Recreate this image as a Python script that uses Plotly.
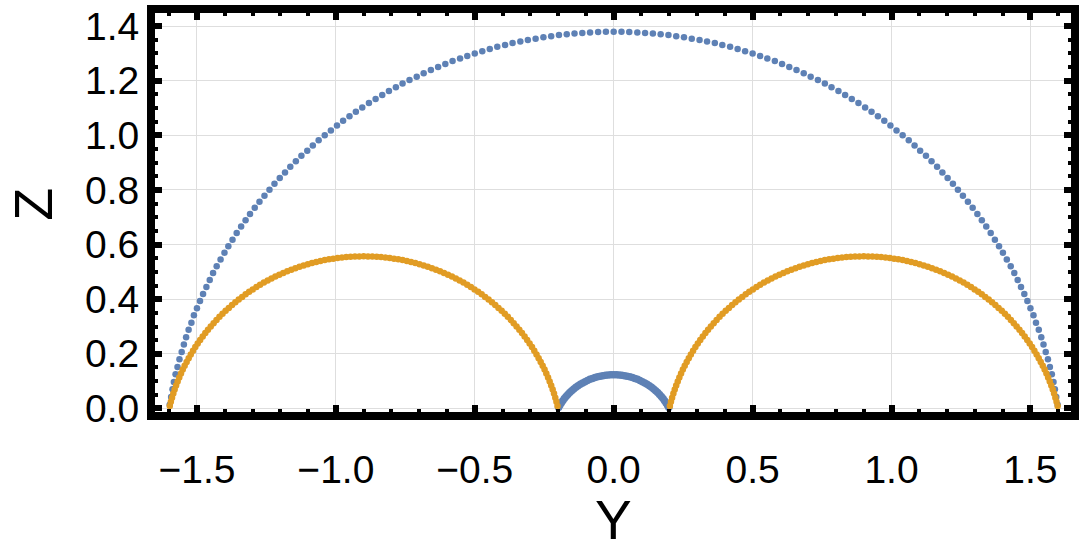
import plotly.graph_objects as go

# ---------------- data ----------------
outer_y = [-1.598, -1.593, -1.588, -1.583, -1.577, -1.570, -1.563, -1.555, -1.547, -1.539,
           -1.530, -1.520, -1.511, -1.500, -1.489, -1.478, -1.466, -1.454, -1.442, -1.429,
           -1.415, -1.401, -1.387, -1.372, -1.357, -1.341, -1.325, -1.309, -1.292, -1.275,
           -1.257, -1.239, -1.221, -1.202, -1.183, -1.164, -1.144, -1.124, -1.103, -1.083,
           -1.062, -1.040, -1.018, -0.996, -0.974, -0.951, -0.928, -0.905, -0.881, -0.857,
           -0.833, -0.809, -0.784, -0.760, -0.735, -0.709, -0.684, -0.658, -0.632, -0.606,
           -0.580, -0.553, -0.527, -0.500, -0.473, -0.446, -0.419, -0.391, -0.364, -0.336,
           -0.309, -0.281, -0.253, -0.225, -0.197, -0.169, -0.141, -0.113, -0.085, -0.056,
           -0.028, 0.000,
           0.028, 0.056, 0.085, 0.113, 0.141, 0.169, 0.197, 0.225, 0.253, 0.281,
           0.309, 0.336, 0.364, 0.391, 0.419, 0.446, 0.473, 0.500, 0.527, 0.553,
           0.580, 0.606, 0.632, 0.658, 0.684, 0.709, 0.735, 0.760, 0.784, 0.809,
           0.833, 0.857, 0.881, 0.905, 0.928, 0.951, 0.974, 0.996, 1.018, 1.040,
           1.062, 1.083, 1.103, 1.124, 1.144, 1.164, 1.183, 1.202, 1.221, 1.239,
           1.257, 1.275, 1.292, 1.309, 1.325, 1.341, 1.357, 1.372, 1.387, 1.401,
           1.415, 1.429, 1.442, 1.454, 1.466, 1.478, 1.489, 1.500, 1.511, 1.520,
           1.530, 1.539, 1.547, 1.555, 1.563, 1.570, 1.577, 1.583, 1.588, 1.593, 1.598]
outer_z = [0.014, 0.042, 0.070, 0.097, 0.125, 0.152, 0.180, 0.207, 0.234, 0.261,
           0.288, 0.314, 0.341, 0.367, 0.393, 0.419, 0.445, 0.470, 0.496, 0.521,
           0.545, 0.570, 0.594, 0.618, 0.642, 0.666, 0.689, 0.712, 0.735, 0.757,
           0.779, 0.801, 0.823, 0.844, 0.864, 0.885, 0.905, 0.925, 0.944, 0.963,
           0.982, 1.000, 1.018, 1.036, 1.053, 1.070, 1.086, 1.102, 1.118, 1.133,
           1.148, 1.162, 1.176, 1.190, 1.203, 1.215, 1.227, 1.239, 1.250, 1.261,
           1.272, 1.281, 1.291, 1.300, 1.308, 1.316, 1.324, 1.331, 1.338, 1.344,
           1.349, 1.354, 1.359, 1.363, 1.367, 1.370, 1.373, 1.375, 1.377, 1.378,
           1.379, 1.379,
           1.379, 1.378, 1.377, 1.375, 1.373, 1.370, 1.367, 1.363, 1.359, 1.354,
           1.349, 1.344, 1.338, 1.331, 1.324, 1.316, 1.308, 1.300, 1.291, 1.281,
           1.272, 1.261, 1.250, 1.239, 1.227, 1.215, 1.203, 1.190, 1.176, 1.162,
           1.148, 1.133, 1.118, 1.102, 1.086, 1.070, 1.053, 1.036, 1.018, 1.000,
           0.982, 0.963, 0.944, 0.925, 0.905, 0.885, 0.864, 0.844, 0.823, 0.801,
           0.779, 0.757, 0.735, 0.712, 0.689, 0.666, 0.642, 0.618, 0.594, 0.570,
           0.545, 0.521, 0.496, 0.470, 0.445, 0.419, 0.393, 0.367, 0.341, 0.314,
           0.288, 0.261, 0.234, 0.207, 0.180, 0.152, 0.125, 0.097, 0.070, 0.042, 0.014]

inner_y = [-0.1984, -0.1937, -0.1887, -0.1832, -0.1775, -0.1714, -0.1649, -0.1582, -0.1511,
           -0.1438, -0.1362, -0.1283, -0.1202, -0.1119, -0.1033, -0.0945, -0.0856, -0.0765,
           -0.0673, -0.0579, -0.0484, -0.0388, -0.0292, -0.0195, -0.0098, 0.0,
           0.0098, 0.0195, 0.0292, 0.0388, 0.0484, 0.0579, 0.0673, 0.0765, 0.0856,
           0.0945, 0.1033, 0.1119, 0.1202, 0.1283, 0.1362, 0.1438, 0.1511, 0.1582,
           0.1649, 0.1714, 0.1775, 0.1832, 0.1887, 0.1937, 0.1984]
inner_z = [0.0031, 0.0117, 0.0200, 0.0281, 0.0360, 0.0436, 0.0509, 0.0580, 0.0647,
           0.0712, 0.0773, 0.0830, 0.0885, 0.0935, 0.0982, 0.1025, 0.1065, 0.1100,
           0.1131, 0.1159, 0.1182, 0.1201, 0.1216, 0.1226, 0.1233, 0.1235,
           0.1233, 0.1226, 0.1216, 0.1201, 0.1182, 0.1159, 0.1131, 0.1100, 0.1065,
           0.1025, 0.0982, 0.0935, 0.0885, 0.0830, 0.0773, 0.0712, 0.0647, 0.0580,
           0.0509, 0.0436, 0.0360, 0.0281, 0.0200, 0.0117, 0.0031]

left_lobe_y = [-1.5978, -1.5939, -1.5897, -1.5851, -1.5803, -1.5751, -1.5695, -1.5637, -1.5575,
               -1.5511, -1.5443, -1.5372, -1.5298, -1.5222, -1.5142, -1.5059, -1.4973, -1.4885,
               -1.4793, -1.4699, -1.4603, -1.4503, -1.4401, -1.4296, -1.4189, -1.4080, -1.3968,
               -1.3853, -1.3737, -1.3618, -1.3497, -1.3373, -1.3248, -1.3121, -1.2991, -1.2860,
               -1.2727, -1.2592, -1.2455, -1.2317, -1.2177, -1.2036, -1.1893, -1.1749, -1.1604,
               -1.1457, -1.1309, -1.1160, -1.1010, -1.0859, -1.0707, -1.0555, -1.0401, -1.0247,
               -1.0093, -0.9938, -0.9782, -0.9626, -0.9470, -0.9313, -0.9157, -0.9000,
               -0.8843, -0.8687, -0.8530, -0.8374, -0.8218, -0.8062, -0.7907, -0.7753, -0.7599,
               -0.7445, -0.7293, -0.7141, -0.6990, -0.6840, -0.6691, -0.6543, -0.6396, -0.6251,
               -0.6107, -0.5964, -0.5823, -0.5683, -0.5545, -0.5408, -0.5273, -0.5140, -0.5009,
               -0.4879, -0.4752, -0.4627, -0.4503, -0.4382, -0.4263, -0.4147, -0.4032, -0.3920,
               -0.3811, -0.3704, -0.3599, -0.3497, -0.3397, -0.3301, -0.3207, -0.3115, -0.3027,
               -0.2941, -0.2858, -0.2778, -0.2702, -0.2628, -0.2557, -0.2489, -0.2425, -0.2363,
               -0.2305, -0.2249, -0.2197, -0.2149, -0.2103, -0.2061, -0.2022]
left_lobe_z = [0.0093, 0.0245, 0.0396, 0.0546, 0.0695, 0.0843, 0.0990, 0.1135, 0.1279,
               0.1422, 0.1563, 0.1703, 0.1841, 0.1978, 0.2113, 0.2246, 0.2377, 0.2507,
               0.2634, 0.2759, 0.2883, 0.3004, 0.3123, 0.3239, 0.3354, 0.3466, 0.3575,
               0.3682, 0.3787, 0.3889, 0.3989, 0.4085, 0.4179, 0.4271, 0.4359, 0.4445,
               0.4528, 0.4608, 0.4684, 0.4758, 0.4829, 0.4897, 0.4961, 0.5023, 0.5081,
               0.5137, 0.5189, 0.5237, 0.5283, 0.5325, 0.5364, 0.5399, 0.5432, 0.5461,
               0.5486, 0.5508, 0.5527, 0.5543, 0.5554, 0.5563, 0.5568, 0.5570,
               0.5568, 0.5563, 0.5554, 0.5543, 0.5527, 0.5508, 0.5486, 0.5461, 0.5432,
               0.5399, 0.5364, 0.5325, 0.5283, 0.5237, 0.5189, 0.5137, 0.5081, 0.5023,
               0.4961, 0.4897, 0.4829, 0.4758, 0.4684, 0.4608, 0.4528, 0.4445, 0.4359,
               0.4271, 0.4179, 0.4085, 0.3989, 0.3889, 0.3787, 0.3682, 0.3575, 0.3466,
               0.3354, 0.3239, 0.3123, 0.3004, 0.2883, 0.2759, 0.2634, 0.2507, 0.2377,
               0.2246, 0.2113, 0.1978, 0.1841, 0.1703, 0.1563, 0.1422, 0.1279, 0.1135,
               0.0990, 0.0843, 0.0695, 0.0546, 0.0396, 0.0245, 0.0093]

right_lobe_y = [0.2022, 0.2061, 0.2103, 0.2149, 0.2197, 0.2249, 0.2305, 0.2363, 0.2425,
                0.2489, 0.2557, 0.2628, 0.2702, 0.2778, 0.2858, 0.2941, 0.3027, 0.3115,
                0.3207, 0.3301, 0.3397, 0.3497, 0.3599, 0.3704, 0.3811, 0.3920, 0.4032,
                0.4147, 0.4263, 0.4382, 0.4503, 0.4627, 0.4752, 0.4879, 0.5009, 0.5140,
                0.5273, 0.5408, 0.5545, 0.5683, 0.5823, 0.5964, 0.6107, 0.6251, 0.6396,
                0.6543, 0.6691, 0.6840, 0.6990, 0.7141, 0.7293, 0.7445, 0.7599, 0.7753,
                0.7907, 0.8062, 0.8218, 0.8374, 0.8530, 0.8687, 0.8843, 0.9000,
                0.9157, 0.9313, 0.9470, 0.9626, 0.9782, 0.9938, 1.0093, 1.0247, 1.0401,
                1.0555, 1.0707, 1.0859, 1.1010, 1.1160, 1.1309, 1.1457, 1.1604, 1.1749,
                1.1893, 1.2036, 1.2177, 1.2317, 1.2455, 1.2592, 1.2727, 1.2860, 1.2991,
                1.3121, 1.3248, 1.3373, 1.3497, 1.3618, 1.3737, 1.3853, 1.3968, 1.4080,
                1.4189, 1.4296, 1.4401, 1.4503, 1.4603, 1.4699, 1.4793, 1.4885, 1.4973,
                1.5059, 1.5142, 1.5222, 1.5298, 1.5372, 1.5443, 1.5511, 1.5575, 1.5637,
                1.5695, 1.5751, 1.5803, 1.5851, 1.5897, 1.5939, 1.5978]
right_lobe_z = [0.0093, 0.0245, 0.0396, 0.0546, 0.0695, 0.0843, 0.0990, 0.1135, 0.1279,
                0.1422, 0.1563, 0.1703, 0.1841, 0.1978, 0.2113, 0.2246, 0.2377, 0.2507,
                0.2634, 0.2759, 0.2883, 0.3004, 0.3123, 0.3239, 0.3354, 0.3466, 0.3575,
                0.3682, 0.3787, 0.3889, 0.3989, 0.4085, 0.4179, 0.4271, 0.4359, 0.4445,
                0.4528, 0.4608, 0.4684, 0.4758, 0.4829, 0.4897, 0.4961, 0.5023, 0.5081,
                0.5137, 0.5189, 0.5237, 0.5283, 0.5325, 0.5364, 0.5399, 0.5432, 0.5461,
                0.5486, 0.5508, 0.5527, 0.5543, 0.5554, 0.5563, 0.5568, 0.5570,
                0.5568, 0.5563, 0.5554, 0.5543, 0.5527, 0.5508, 0.5486, 0.5461, 0.5432,
                0.5399, 0.5364, 0.5325, 0.5283, 0.5237, 0.5189, 0.5137, 0.5081, 0.5023,
                0.4961, 0.4897, 0.4829, 0.4758, 0.4684, 0.4608, 0.4528, 0.4445, 0.4359,
                0.4271, 0.4179, 0.4085, 0.3989, 0.3889, 0.3787, 0.3682, 0.3575, 0.3466,
                0.3354, 0.3239, 0.3123, 0.3004, 0.2883, 0.2759, 0.2634, 0.2507, 0.2377,
                0.2246, 0.2113, 0.1978, 0.1841, 0.1703, 0.1563, 0.1422, 0.1279, 0.1135,
                0.0990, 0.0843, 0.0695, 0.0546, 0.0396, 0.0245, 0.0093]

x_tick_vals = [-1.5, -1.0, -0.5, 0.0, 0.5, 1.0, 1.5]
x_tick_text = ["\u22121.5", "\u22121.0", "\u22120.5", "0.0", "0.5", "1.0", "1.5"]
y_tick_vals = [0.0, 0.2, 0.4, 0.6, 0.8, 1.0, 1.2, 1.4]
y_tick_text = ["0.0", "0.2", "0.4", "0.6", "0.8", "1.0", "1.2", "1.4"]
x_label = "Y"
y_label = "Z"

BLUE = "#5E81B5"
ORANGE = "#E19C24"
FONT = "Liberation Sans, Arial, sans-serif"

fig = go.Figure()
fig.add_trace(go.Scatter(x=outer_y, y=outer_z, mode="markers",
                         marker=dict(color=BLUE, size=6.5, line=dict(width=0)),
                         hoverinfo="skip"))
fig.add_trace(go.Scatter(x=inner_y, y=inner_z, mode="markers",
                         marker=dict(color=BLUE, size=7.5, line=dict(width=0)),
                         hoverinfo="skip"))
fig.add_trace(go.Scatter(x=left_lobe_y, y=left_lobe_z, mode="markers",
                         marker=dict(color=ORANGE, size=6.5, line=dict(width=0)),
                         hoverinfo="skip"))
fig.add_trace(go.Scatter(x=right_lobe_y, y=right_lobe_z, mode="markers",
                         marker=dict(color=ORANGE, size=6.5, line=dict(width=0)),
                         hoverinfo="skip"))

axis_common = dict(
    showline=True, linecolor="black", linewidth=8, mirror="allticks",
    ticks="inside", ticklen=7, tickwidth=6, tickcolor="black",
    showgrid=True, gridcolor="#dedede", gridwidth=1, zeroline=False,
    tickfont=dict(family=FONT, size=39, color="black"),
)

fig.update_xaxes(range=[-1.651, 1.646], tickmode="array", tickvals=x_tick_vals,
                 ticktext=x_tick_text, ticklabelstandoff=16,
                 minor=dict(dtick=0.1, tick0=0, ticks="inside", ticklen=3, tickwidth=4,
                            tickcolor="black", showgrid=False),
                 **axis_common)
fig.update_yaxes(range=[-0.013, 1.448], tickmode="array", tickvals=y_tick_vals,
                 ticktext=y_tick_text,
                 minor=dict(dtick=0.05, tick0=0, ticks="inside", ticklen=3, tickwidth=4,
                            tickcolor="black", showgrid=False),
                 **axis_common)

# axis titles (placed in paper coordinates)
fig.add_annotation(text=x_label, xref="paper", yref="paper", x=0.5008, y=-0.2703,
                   xanchor="center", yanchor="middle", showarrow=False,
                   font=dict(family=FONT, size=55, color="black"))
fig.add_annotation(text=y_label, xref="paper", yref="paper", x=-0.1685, y=0.521,
                   xanchor="left", yanchor="middle", showarrow=False, textangle=-90,
                   font=dict(family=FONT, size=54, color="black"))

fig.update_layout(
    width=1084, height=551,
    margin=dict(l=155, r=9, t=5, b=139, pad=0),
    plot_bgcolor="white", paper_bgcolor="white",
    showlegend=False,
    font=dict(family=FONT, color="black"),
)

fig.write_html("out.html")
